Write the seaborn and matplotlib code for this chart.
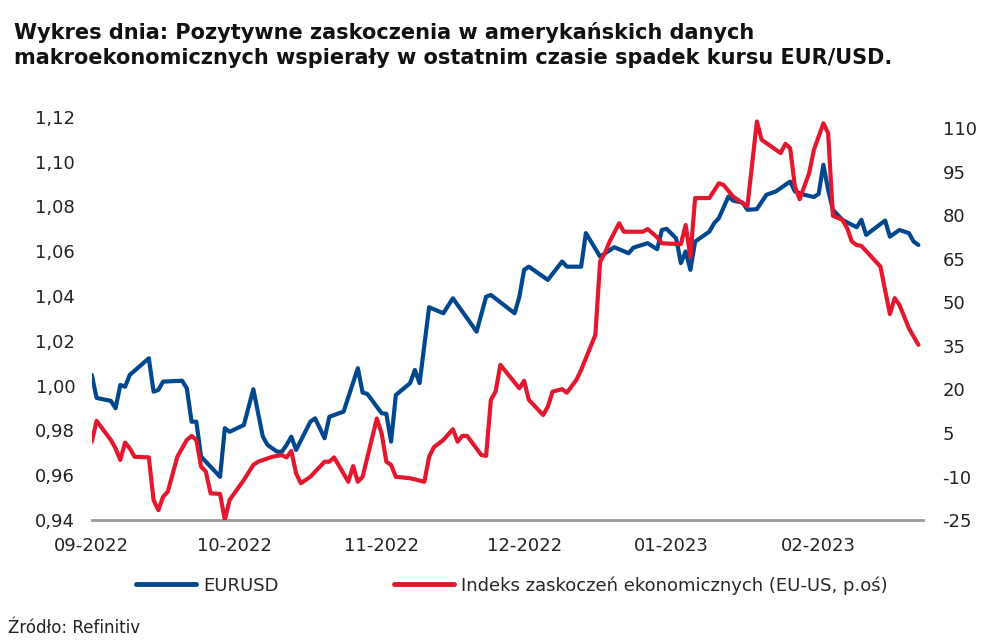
import matplotlib
matplotlib.use("Agg")
import matplotlib.pyplot as plt
import matplotlib.dates as mdates
from matplotlib.ticker import FuncFormatter, FixedLocator
from matplotlib.lines import Line2D
import seaborn as sns
import pandas as pd

sns.set_style("white")
plt.rcParams['font.family'] = ['DejaVu Sans']

# EURUSD (lewa oś)
eurusd_dates = [
    "2022-09-01", "2022-09-02", "2022-09-05", "2022-09-06", "2022-09-07", "2022-09-08",
    "2022-09-09", "2022-09-13", "2022-09-14", "2022-09-15", "2022-09-16", "2022-09-20",
    "2022-09-21", "2022-09-22", "2022-09-23", "2022-09-24", "2022-09-28", "2022-09-29",
    "2022-09-30", "2022-10-03", "2022-10-05", "2022-10-07", "2022-10-08", "2022-10-10",
    "2022-10-11", "2022-10-12", "2022-10-13", "2022-10-14", "2022-10-17", "2022-10-18",
    "2022-10-20", "2022-10-21", "2022-10-24", "2022-10-27", "2022-10-28", "2022-10-29",
    "2022-11-01", "2022-11-02", "2022-11-03", "2022-11-04", "2022-11-07", "2022-11-08",
    "2022-11-09", "2022-11-11", "2022-11-14", "2022-11-16", "2022-11-19", "2022-11-21",
    "2022-11-23", "2022-11-24", "2022-11-29", "2022-11-30", "2022-12-01", "2022-12-02",
    "2022-12-06", "2022-12-09", "2022-12-10", "2022-12-13", "2022-12-14", "2022-12-17",
    "2022-12-20", "2022-12-23", "2022-12-24", "2022-12-27", "2022-12-29", "2022-12-30",
    "2022-12-31", "2023-01-02", "2023-01-03", "2023-01-04", "2023-01-05", "2023-01-06",
    "2023-01-09", "2023-01-10", "2023-01-11", "2023-01-13", "2023-01-14", "2023-01-16",
    "2023-01-17", "2023-01-19", "2023-01-21", "2023-01-23", "2023-01-26", "2023-01-27",
    "2023-01-29", "2023-01-31", "2023-02-01", "2023-02-02", "2023-02-03", "2023-02-04",
    "2023-02-06", "2023-02-08", "2023-02-09", "2023-02-10", "2023-02-11", "2023-02-15",
    "2023-02-16", "2023-02-18", "2023-02-20", "2023-02-21", "2023-02-22",
]
eurusd = [
    1.0048, 0.9945, 0.9932, 0.9899, 1.0003, 0.9995,
    1.0048, 1.0122, 0.9973, 0.9981, 1.0018, 1.0022,
    0.9988, 0.9839, 0.9839, 0.9683, 0.9593, 0.9810,
    0.9794, 0.9824, 0.9984, 0.9772, 0.9735, 0.9705,
    0.9705, 0.9735, 0.9772, 0.9713, 0.9839, 0.9854,
    0.9765, 0.9861, 0.9884, 1.0078, 0.9969, 0.9963,
    0.9877, 0.9874, 0.9750, 0.9958, 1.0011, 1.0070,
    1.0011, 1.0350, 1.0323, 1.0390, 1.0301, 1.0241,
    1.0397, 1.0405, 1.0323, 1.0397, 1.0517, 1.0531,
    1.0472, 1.0554, 1.0531, 1.0531, 1.0681, 1.0576,
    1.0618, 1.0591, 1.0616, 1.0636, 1.0609, 1.0695,
    1.0700, 1.0658, 1.0547, 1.0599, 1.0517, 1.0643,
    1.0688, 1.0725, 1.0748, 1.0844, 1.0826, 1.0817,
    1.0785, 1.0788, 1.0852, 1.0867, 1.0911, 1.0867,
    1.0852, 1.0842, 1.0856, 1.0986, 1.0874, 1.0785,
    1.0740, 1.0718, 1.0707, 1.0740, 1.0673, 1.0737,
    1.0665, 1.0695, 1.0681, 1.0643, 1.0628,
]

# Indeks zaskoczeń (prawa oś)
surprise_dates = [
    "2022-09-01", "2022-09-02", "2022-09-05", "2022-09-06", "2022-09-07", "2022-09-08",
    "2022-09-09", "2022-09-10", "2022-09-13", "2022-09-14", "2022-09-15", "2022-09-16",
    "2022-09-17", "2022-09-19", "2022-09-21", "2022-09-22", "2022-09-23", "2022-09-24",
    "2022-09-25", "2022-09-26", "2022-09-28", "2022-09-29", "2022-09-30", "2022-10-03",
    "2022-10-05", "2022-10-06", "2022-10-09", "2022-10-11", "2022-10-12", "2022-10-13",
    "2022-10-14", "2022-10-15", "2022-10-17", "2022-10-20", "2022-10-21", "2022-10-22",
    "2022-10-25", "2022-10-26", "2022-10-27", "2022-10-28", "2022-10-31", "2022-11-01",
    "2022-11-02", "2022-11-03", "2022-11-04", "2022-11-07", "2022-11-10", "2022-11-11",
    "2022-11-12", "2022-11-14", "2022-11-16", "2022-11-17", "2022-11-18", "2022-11-19",
    "2022-11-22", "2022-11-23", "2022-11-24", "2022-11-25", "2022-11-26", "2022-11-30",
    "2022-12-01", "2022-12-02", "2022-12-03", "2022-12-05", "2022-12-06", "2022-12-07",
    "2022-12-09", "2022-12-10", "2022-12-12", "2022-12-13", "2022-12-14", "2022-12-16",
    "2022-12-17", "2022-12-18", "2022-12-19", "2022-12-21", "2022-12-22", "2022-12-26",
    "2022-12-27", "2022-12-29", "2022-12-30", "2023-01-03", "2023-01-04", "2023-01-05",
    "2023-01-06", "2023-01-09", "2023-01-11", "2023-01-12", "2023-01-14", "2023-01-17",
    "2023-01-19", "2023-01-20", "2023-01-24", "2023-01-25", "2023-01-26", "2023-01-27",
    "2023-01-28", "2023-01-30", "2023-01-31", "2023-02-02", "2023-02-03", "2023-02-04",
    "2023-02-06", "2023-02-07", "2023-02-08", "2023-02-09", "2023-02-10", "2023-02-14",
    "2023-02-16", "2023-02-17", "2023-02-18", "2023-02-20", "2023-02-22",
]
surprise = [
    2.0, 9.2, 2.6, -0.3, -4.3, 1.7,
    -0.3, -3.2, -3.4, -18.1, -21.6, -17.0,
    -15.2, -3.2, 2.6, 4.0, 2.6, -6.6,
    -8.3, -15.8, -16.0, -25.0, -18.1, -11.2,
    -6.0, -4.9, -3.2, -2.6, -3.4, -1.2,
    -8.9, -12.3, -10.1, -4.9, -4.9, -3.4,
    -11.8, -6.4, -11.8, -10.1, 10.0, 4.9,
    -4.9, -6.0, -10.1, -10.6, -11.8, -3.2,
    0.1, 2.6, 6.3, 2.0, 4.0, 4.0,
    -2.6, -2.9, 16.4, 19.3, 28.5, 20.4,
    23.0, 16.4, 14.7, 11.2, 14.1, 19.3,
    20.1, 18.9, 23.3, 26.7, 30.8, 38.8,
    64.1, 67.0, 71.0, 77.3, 74.4, 74.4,
    75.3, 72.5, 70.4, 70.1, 76.7, 65.8,
    86.0, 86.0, 91.1, 90.5, 86.5, 83.1,
    112.4, 106.1, 101.5, 104.7, 103.2, 90.0,
    85.6, 94.6, 102.6, 111.8, 108.4, 79.9,
    78.5, 75.6, 71.0, 69.8, 69.5, 62.4,
    46.0, 51.5, 49.2, 41.1, 35.4,
]

left_ticks = [0.94, 0.96, 0.98, 1.00, 1.02, 1.04, 1.06, 1.08, 1.10, 1.12]
right_ticks = [-25, -10, 5, 20, 35, 50, 65, 80, 95, 110]

blue = "#00478E"
red = "#E3172D"
grey = "#9A9A9A"

df_eur = pd.DataFrame({"date": pd.to_datetime(eurusd_dates), "val": eurusd})
df_sur = pd.DataFrame({"date": pd.to_datetime(surprise_dates), "val": surprise})

fig = plt.figure(figsize=(9.98, 6.42), dpi=100)
ax = fig.add_axes([0.092, 0.19, 0.833, 0.628])
sns.lineplot(data=df_eur, x="date", y="val", ax=ax, color=blue, linewidth=3.0)
ax2 = ax.twinx()
sns.lineplot(data=df_sur, x="date", y="val", ax=ax2, color=red, linewidth=3.0)

ax.set_xlim(pd.Timestamp("2022-09-01"), pd.Timestamp("2023-02-23"))
ax.set_ylim(0.94, 1.12)
ax2.set_ylim(-25, 114)

ax.yaxis.set_major_locator(FixedLocator(left_ticks))
ax.yaxis.set_major_formatter(FuncFormatter(lambda v, p: f"{v:.2f}".replace(".", ",")))
ax2.yaxis.set_major_locator(FixedLocator(right_ticks))
ax2.yaxis.set_major_formatter(FuncFormatter(lambda v, p: f"{v:.0f}"))

ax.xaxis.set_major_locator(mdates.MonthLocator())
ax.xaxis.set_major_formatter(mdates.DateFormatter("%m-%Y"))

for a in (ax, ax2):
    a.set_xlabel("")
    a.set_ylabel("")
    for s in ["top", "left", "right", "bottom"]:
        a.spines[s].set_visible(False)
    a.grid(False)

ax.spines["bottom"].set_visible(True)
ax.spines["bottom"].set_color(grey)
ax.spines["bottom"].set_linewidth(2)
ax.tick_params(axis="x", length=6, width=1.5, color=grey, labelsize=13, pad=6, labelcolor="#222222")
ax.tick_params(axis="y", length=0, labelsize=13, pad=12, labelcolor="#222222")
ax2.tick_params(axis="y", length=0, labelsize=13, pad=14, labelcolor="#222222")

fig.text(0.014, 0.965, "Wykres dnia: Pozytywne zaskoczenia w amerykańskich danych\n"
         "makroekonomicznych wspierały w ostatnim czasie spadek kursu EUR/USD.",
         fontsize=15, fontweight="bold", va="top", ha="left", linespacing=1.3, color="#111111")

handles = [Line2D([], [], color=blue, linewidth=3.5),
           Line2D([], [], color=red, linewidth=3.5)]
labels = ["EURUSD", "Indeks zaskoczeń ekonomicznych (EU-US, p.oś)"]
fig.legend(handles, labels, loc="center", bbox_to_anchor=(0.513, 0.088), ncol=2,
           frameon=False, fontsize=13, handlelength=3.3, columnspacing=6.4, handletextpad=0.4)

fig.text(0.008, 0.014, "Źródło: Refinitiv", fontsize=12, ha="left", va="baseline", color="#222222")

fig.savefig("out.png", dpi=100)
